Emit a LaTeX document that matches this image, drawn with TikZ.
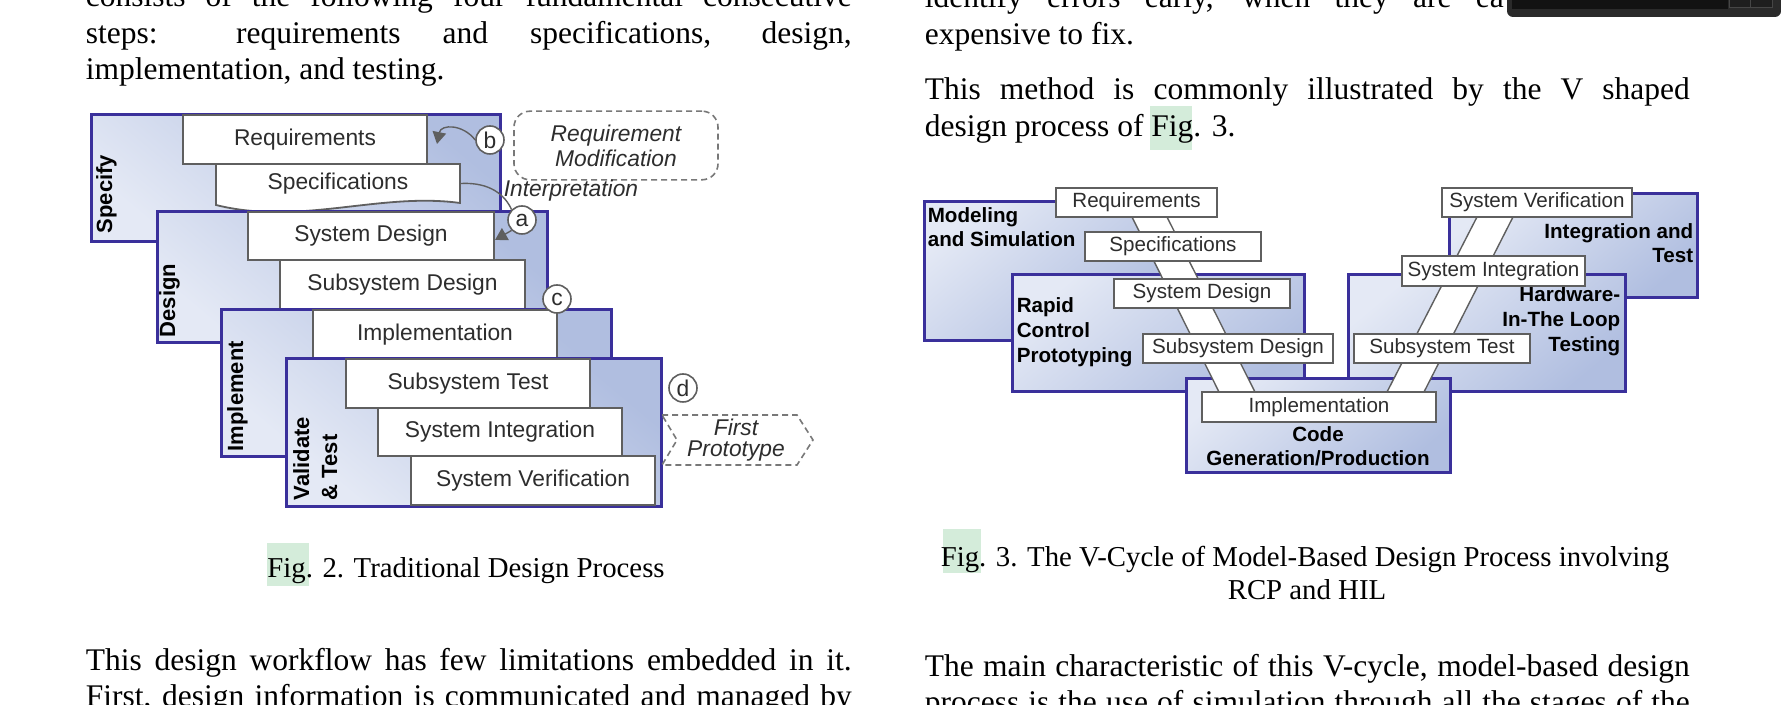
\documentclass[tikz,border=0pt]{standalone}
\usepackage{fontspec}
\setmainfont{Liberation Serif}
\newfontfamily\arialf{Liberation Sans}
\usetikzlibrary{arrows.meta}
\definecolor{pnlborder}{RGB}{58,48,155}
\definecolor{pnllight}{RGB}{228,233,245}
\definecolor{pnldark}{RGB}{176,190,224}
\definecolor{boxline}{RGB}{95,95,95}
\definecolor{boxtext}{RGB}{45,45,45}
\definecolor{calloutc}{RGB}{120,120,120}
\definecolor{hlgreen}{RGB}{212,236,218}
\definecolor{barouter}{RGB}{42,42,42}
\definecolor{barinner}{RGB}{18,18,18}
\definecolor{barbox}{RGB}{30,30,30}
\definecolor{barboxline}{RGB}{70,70,70}
% #1 style, #2 name, #3 x1, #4 y1, #5 x2, #6 y2 (pixels), #7 text
\newcommand\pnlbox[7]{%
  \pgfmathsetmacro\pbw{(#5-#3)/4}%
  \pgfmathsetmacro\pbh{(#6-#4)/4}%
  \pgfmathsetmacro\pbx{(#3+#5)/2}%
  \pgfmathsetmacro\pby{(#4+#6)/2}%
  \node[#1, minimum width=\pbw pt, minimum height=\pbh pt, anchor=center] (#2) at (\pbx,\pby) {#7};}
\begin{document}
\begin{tikzpicture}[x=0.25pt,y=-0.25pt,
  bodytxt/.style={inner sep=0pt, anchor=base west, font=\fontsize{7.875}{9}\selectfont},
  captxt/.style={inner sep=0pt, anchor=base, font=\fontsize{7.2}{8.5}\selectfont},
  panelA/.style={draw=pnlborder, line width=0.75pt, top color=pnldark, bottom color=pnllight, shading angle=-40, inner sep=0pt},
  panelB/.style={draw=pnlborder, line width=0.75pt, top color=pnllight, bottom color=pnldark, shading angle=40, inner sep=0pt},
  boxA/.style={draw=boxline, fill=white, line width=0.45pt, inner sep=0pt, text=boxtext, font=\arialf\fontsize{5.7}{6.5}\selectfont},
  boxB/.style={draw=boxline, fill=white, line width=0.4pt, inner sep=0pt, text=boxtext, font=\arialf\fontsize{5.15}{6}\selectfont},
  vlabel/.style={rotate=90, anchor=base west, inner sep=0pt, font=\arialf\bfseries\fontsize{5.5}{6.5}\selectfont},
  plabel/.style={inner sep=0pt, font=\arialf\bfseries\fontsize{5.15}{6}\selectfont},
  tag/.style={circle, draw=boxline, fill=white, line width=0.4pt, minimum size=7pt, inner sep=0pt, text=boxtext, font=\arialf\fontsize{5.7}{6.5}\selectfont},
  callout/.style={draw=calloutc, dash pattern=on 1.5pt off 1pt, line width=0.4pt},
  conn/.style={draw=boxline, line width=0.35pt},
  tip/.style={-{Triangle[length=3pt,width=3.4pt]}},
  bandedge/.style={draw=boxline, line width=0.35pt}
]
\useasboundingbox (0,0) rectangle (1781,705);
\clip (0,0) rectangle (1781,705);
\fill[white] (0,0) rectangle (1781,705);

% ---------------- body text ----------------
\node[bodytxt] (tl1) at (85,7) {\makebox[191.5pt][s]{consists of the following four fundamental consecutive}};
\node[bodytxt] (tl2) at (85,44) {\makebox[191.5pt][s]{steps: requirements and specifications, design,}};
\node[bodytxt] (tl3) at (85,80) {implementation, and testing.};
\node[bodytxt] (tl4) at (85,671) {\makebox[191.5pt][s]{This design workflow has few limitations embedded in it.}};
\node[bodytxt] (tl5) at (85,707) {\makebox[191.5pt][s]{First, design information is communicated and managed by}};

\fill[hlgreen] (1150,106) rectangle (1192,150);
\node[bodytxt] (tr1) at (924,8) {\makebox[144.75pt][s]{identify errors early, when they are ea}};
\node[bodytxt] (tr2) at (924,45) {expensive to fix.};
\node[bodytxt] (tr3) at (924,100) {\makebox[191.25pt][s]{This method is commonly illustrated by the V shaped}};
\node[bodytxt] (tr4) at (924,137) {design process of Fig. 3.};
\node[bodytxt] (tr5) at (924,677) {\makebox[191.25pt][s]{The main characteristic of this V-cycle, model-based design}};
\node[bodytxt] (tr6) at (924,713) {\makebox[191.25pt][s]{process is the use of simulation through all the stages of the}};

% dark bar top right
\fill[barouter, rounded corners=1.5pt] (1507,-10) rectangle (1781,17);
\fill[barinner] (1512,-5) rectangle (1728,9);
\draw[draw=barboxline, fill=barbox, line width=0.25pt] (1729,-5) rectangle (1750,8);
\draw[draw=barboxline, fill=barbox, line width=0.25pt] (1750,-5) rectangle (1772,8);

% captions
\fill[hlgreen] (267,543) rectangle (309,586);
\node[captxt] (cap2) at (466,578) {Fig. 2. Traditional Design Process};
\fill[hlgreen] (943,529) rectangle (981,573);
\node[captxt] (cap3a) at (1305,567) {Fig. 3. The V-Cycle of Model-Based Design Process involving};
\node[captxt] (cap3b) at (1307,600) {RCP and HIL};

% ---------------- Fig. 2 ----------------
\pnlbox{panelA}{pSpec}{91}{115}{500}{242}{}
\node[vlabel] (lSpec) at (112,234) {Specify};
\draw[draw=boxline, fill=white, line width=0.45pt] (216,164) -- (460,164) -- (460,203) .. controls (380,192) and (300,226) .. (216,205) -- cycle;
\pnlbox{inner sep=0pt, text=boxtext, font=\arialf\fontsize{5.7}{6.5}\selectfont}{spec}{216}{164}{460}{203}{Specifications}
\pnlbox{boxA}{req}{183}{115}{427}{164}{Requirements}

\pnlbox{panelA}{pDes}{157}{212}{547}{343}{}
\node[vlabel] (lDes) at (175,338) {Design};
\pnlbox{boxA}{sysd}{248}{212}{494}{260}{System Design}
\pnlbox{boxA}{subd}{280}{260}{525}{309}{Subsystem Design}

\pnlbox{panelA}{pImp}{221}{310}{611}{457}{}
\node[vlabel] (lImp) at (243,452) {Implement};
\pnlbox{boxA}{impl}{313}{310}{557}{359}{Implementation}

\pnlbox{panelA}{pVal}{286}{359}{661}{507}{}
\node[vlabel] (lVal1) at (309,501) {Validate};
\node[vlabel] (lVal2) at (337,501) {\& Test};
\pnlbox{boxA}{subt}{346}{359}{590}{408}{Subsystem Test}
\pnlbox{boxA}{sint}{378}{408}{622}{456}{System Integration}
\pnlbox{boxA}{sver}{411}{456}{655}{505}{System Verification}

% callouts
\pnlbox{callout, rounded corners=4pt, align=center, text=boxtext, font=\arialf\itshape\fontsize{5.7}{6.3}\selectfont}{rmod}{514}{118}{718}{173}{Requirement\\Modification}
\node[tag] (b) at (490,140) {b};
\node[inner sep=0pt, anchor=base west, text=boxtext, font=\arialf\itshape\fontsize{5.7}{6.5}\selectfont] (interp) at (503,197) {Interpretation};
\node[tag] (a) at (522,220) {a};
\node[tag] (c) at (557,299) {c};
\node[tag] (d) at (683,388) {d};
\draw[callout] (662,415) -- (797,415) -- (813,440) -- (797,465) -- (662,465) -- (677,440) -- cycle;
\node[inner sep=0pt, align=center, text=boxtext, font=\arialf\itshape\fontsize{5.7}{5.2}\selectfont] (fp) at (736,440) {First\\Prototype};

\coordinate (tb) at (437,144);
\draw[conn, tip] (b.west) .. controls (463,124) and (441,124) .. (tb);
\draw[conn] (spec.east) .. controls (490,182) and (505,195) .. (a.north west);
\coordinate (ta) at (495,240);
\draw[conn, tip] (a.south west) -- (ta);

% ---------------- Fig. 3 ----------------
\pnlbox{panelB}{pMod}{924}{202}{1163}{341}{}
\pnlbox{panelB}{pRcp}{1012}{275}{1304}{392}{}
\pnlbox{panelB}{pInt}{1449}{194}{1697}{298}{}
\pnlbox{panelB}{pHil}{1348}{275}{1625}{392}{}
\pnlbox{panelB}{pCode}{1186}{379}{1450}{473}{}

\node[plabel, anchor=base west] (lMod1) at (927,223) {Modeling};
\node[plabel, anchor=base west] (lMod2) at (927,247) {and Simulation};
\node[plabel, anchor=base west] (lRcp1) at (1016,313) {Rapid};
\node[plabel, anchor=base west] (lRcp2) at (1016,338) {Control};
\node[plabel, anchor=base west] (lRcp3) at (1016,363) {Prototyping};
\node[plabel, anchor=base] (lCode1) at (1318,442) {Code};
\node[plabel, anchor=base] (lCode2) at (1318,466) {Generation/Production};
\node[plabel, anchor=base east] (lHil1) at (1621,302) {Hardware-};
\node[plabel, anchor=base east] (lHil2) at (1621,327) {In-The Loop};
\node[plabel, anchor=base east] (lHil3) at (1621,352) {Testing};
\node[plabel, anchor=base east] (lInt1) at (1694,239) {Integration and};
\node[plabel, anchor=base east] (lInt2) at (1694,263) {Test};

% V bands
\fill[white] (1132,217) -- (1167,217) -- (1255,392) -- (1219,392) -- cycle;
\draw[bandedge] (1132,217) -- (1219,392);
\draw[bandedge] (1167,217) -- (1255,392);
\fill[white] (1477,217) -- (1513,217) -- (1424,392) -- (1387,392) -- cycle;
\draw[bandedge] (1477,217) -- (1387,392);
\draw[bandedge] (1513,217) -- (1424,392);

\pnlbox{boxB}{req3}{1056}{188}{1217}{217}{Requirements}
\pnlbox{boxB}{spec3}{1085}{232}{1261}{261}{Specifications}
\pnlbox{boxB}{sysd3}{1114}{279}{1290}{308}{System Design}
\pnlbox{boxB}{subd3}{1143}{334}{1333}{363}{Subsystem Design}
\pnlbox{boxB}{impl3}{1202}{392}{1436}{422}{Implementation}
\pnlbox{boxB}{subt3}{1354}{334}{1530}{363}{Subsystem Test}
\pnlbox{boxB}{sint3}{1402}{256}{1585}{286}{System Integration}
\pnlbox{boxB}{sver3}{1442}{188}{1632}{217}{System Verification}
\end{tikzpicture}
\end{document}
